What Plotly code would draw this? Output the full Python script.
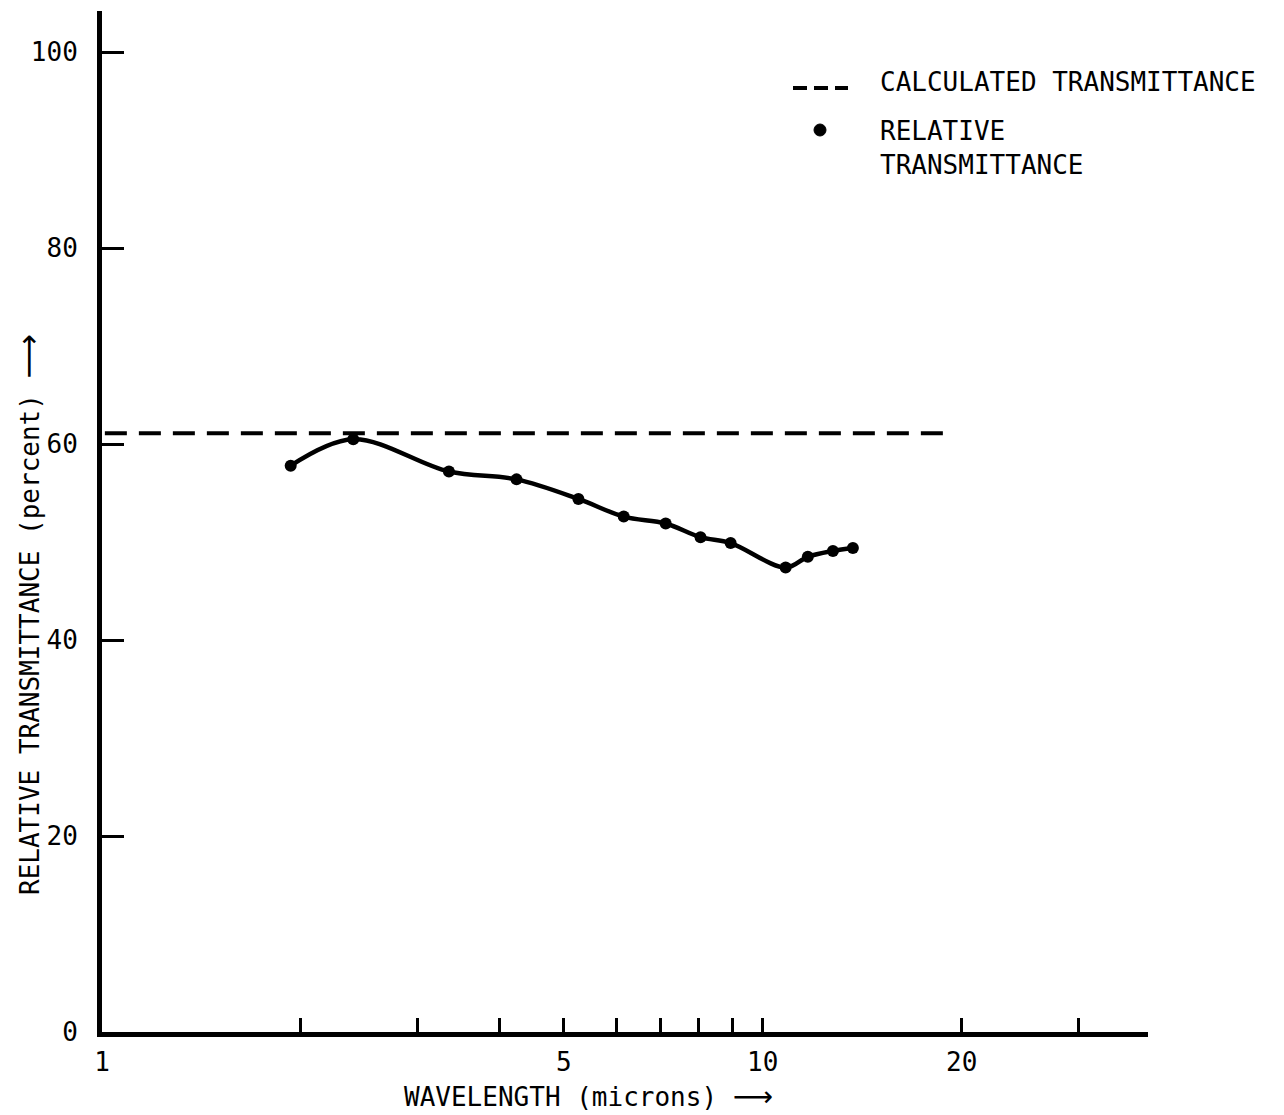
import plotly.graph_objects as go

# Measured relative transmittance
wavelength = [1.93, 2.40, 3.35, 4.24, 5.26, 6.16, 7.13, 8.05, 8.94, 10.83, 11.7, 12.77, 13.69]
rel_trans = [57.8, 60.5, 57.2, 56.4, 54.4, 52.6, 51.9, 50.5, 49.9, 47.4, 48.5, 49.1, 49.4]

# Calculated transmittance (constant)
calc_x = [1.01, 19.5]
calc_y = [61.1, 61.1]

x_tickvals = [1, 2, 3, 4, 5, 6, 7, 8, 9, 10, 20, 30]
x_ticktext = ["1", "", "", "", "5", "", "", "", "", "10", "20", ""]
y_tickvals = [0, 20, 40, 60, 80, 100]
y_ticktext = ["0", "20", "40", "60", "80", "100"]

FONT = "DejaVu Sans Mono"
ARROW_X = '<span style="font-family:DejaVu Sans;font-size:28px">⟶</span>'
ARROW_Y = '<span style="font-family:DejaVu Sans;font-size:31px">⟶</span>'

fig = go.Figure()
fig.add_trace(go.Scatter(
    x=calc_x, y=calc_y, mode="lines",
    line=dict(color="black", width=4, dash="22px,12px"),
    showlegend=False, hoverinfo="skip"))
fig.add_trace(go.Scatter(
    x=wavelength, y=rel_trans, mode="lines+markers",
    line=dict(color="black", width=4.5, shape="spline", smoothing=1.0),
    marker=dict(color="black", size=12),
    showlegend=False))

OFF = 8  # page body margin
W, H = 1284 - OFF, 1115 - OFF
L = 102 - OFF
T = 11 - OFF
R = W - (1148 - OFF)
B = H - (1032 - OFF)
pw, ph = W - L - R, H - T - B

def px(xp):
    return (xp - OFF - L) / pw

def py(yp):
    return (H - B - (yp - OFF)) / ph

fig.update_layout(
    width=W, height=H,
    margin=dict(l=L, r=R, t=T, b=B, autoexpand=False),
    paper_bgcolor="white", plot_bgcolor="white",
    font=dict(family=FONT, size=26, color="black"),
    showlegend=False,
    xaxis=dict(
        type="log", range=[0, 1.583],
        tickvals=x_tickvals, ticktext=x_ticktext,
        ticks="inside", ticklen=14, tickwidth=3, tickcolor="black",
        showline=True, linewidth=5, linecolor="black",
        showgrid=False, zeroline=False,
        tickfont=dict(family=FONT, size=26),
        ticklabelstandoff=3,
    ),
    yaxis=dict(
        range=[0, 104.2],
        tickvals=y_tickvals, ticktext=y_ticktext,
        ticks="inside", ticklen=22, tickwidth=3, tickcolor="black",
        showline=True, linewidth=5, linecolor="black",
        showgrid=False, zeroline=False,
        tickfont=dict(family=FONT, size=26),
        ticklabelstandoff=14,
    ),
)

annotations = [
    dict(text="WAVELENGTH (microns) " + ARROW_X, x=px(588), y=py(1096),
         xanchor="center", yanchor="middle"),
    dict(text="RELATIVE TRANSMITTANCE (percent) " + ARROW_Y, x=px(28), y=py(615),
         textangle=-90, xanchor="center", yanchor="middle"),
    dict(text="CALCULATED TRANSMITTANCE", x=px(878), y=py(82),
         xanchor="left", yanchor="middle"),
    dict(text="RELATIVE<br>TRANSMITTANCE", x=px(878), y=py(114),
         xanchor="left", yanchor="top", align="left"),
]
for a in annotations:
    a.update(xref="paper", yref="paper", showarrow=False,
             font=dict(family=FONT, size=26, color="black"))
fig.update_layout(annotations=annotations)

fig.add_shape(type="line", xref="paper", yref="paper",
              x0=px(793), x1=px(848), y0=py(88), y1=py(88),
              line=dict(color="black", width=4, dash="14px,7px"))
fig.add_shape(type="circle", xref="paper", yref="paper",
              x0=px(814), x1=px(826), y0=py(136), y1=py(124),
              fillcolor="black", line=dict(color="black", width=1))

fig.write_html("out.html")
